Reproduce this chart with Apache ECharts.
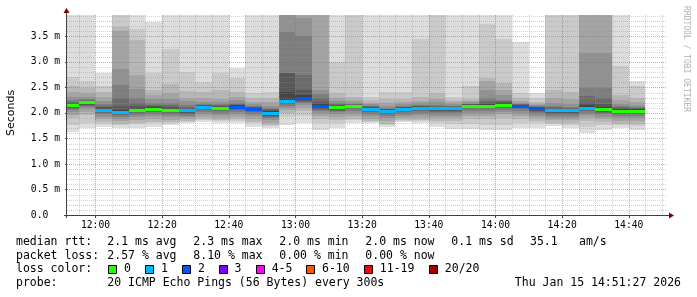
<!DOCTYPE html>
<html><head><meta charset="utf-8">
<script src="https://cdn.jsdelivr.net/npm/echarts@6/dist/echarts.min.js"></script>
<style>html,body{margin:0;padding:0;background:#fff}#c{width:697px;height:297px}</style>
</head><body><div id="c"></div>
<script>
// ---- data ----
const graphStart = '11:51:27';
const graphEnd = '14:51:27';
const colEnds = ['11:55','12:00','12:05','12:10','12:15','12:20','12:25','12:30','12:35','12:40','12:45','12:50','12:55',
  '13:00','13:05','13:10','13:15','13:20','13:25','13:30','13:35','13:40','13:45','13:50','13:55',
  '14:00','14:05','14:10','14:15','14:20','14:25','14:30','14:35','14:40','14:45'];
// 20 sorted ping rtts (ms) per 5-minute step
const pings = [
  [1.63,1.76,1.90,1.96,2.01,2.05,2.08,2.10,2.12,2.14,2.16,2.18,2.20,2.22,2.25,2.32,2.42,2.52,2.71,4.2],
  [1.70,1.80,1.96,2.02,2.07,2.11,2.14,2.16,2.18,2.20,2.22,2.23,2.24,2.25,2.27,2.31,2.39,2.49,2.62,4.2],
  [1.73,1.79,1.83,1.88,1.93,1.97,2.00,2.02,2.04,2.05,2.07,2.09,2.11,2.14,2.17,2.23,2.31,2.42,2.53,2.79],
  [1.70,1.76,1.78,1.84,1.89,1.93,1.96,1.98,2.00,2.01,2.03,2.06,2.13,2.30,2.55,2.86,3.60,3.69,4.2,4.2],
  [1.70,1.78,1.81,1.87,1.92,1.96,1.99,2.01,2.03,2.05,2.07,2.10,2.14,2.19,2.30,2.47,2.75,3.43,3.65,4.2],
  [1.72,1.80,1.83,1.89,1.94,1.98,2.01,2.03,2.05,2.07,2.09,2.11,2.13,2.16,2.20,2.28,2.36,2.45,2.78,3.79],
  [1.76,1.80,1.83,1.87,1.92,1.96,1.99,2.01,2.03,2.05,2.07,2.09,2.12,2.15,2.19,2.28,2.40,2.57,3.25,4.2],
  [1.80,1.83,1.85,1.88,1.92,1.95,1.98,2.00,2.02,2.04,2.06,2.08,2.10,2.12,2.15,2.23,2.30,2.43,2.81,4.2],
  [1.82,1.86,1.88,1.93,1.98,2.02,2.05,2.07,2.09,2.11,2.13,2.14,2.15,2.16,2.18,2.22,2.29,2.42,2.61,4.2],
  [1.80,1.84,1.86,1.91,1.96,2.00,2.03,2.05,2.07,2.09,2.11,2.12,2.14,2.15,2.17,2.22,2.27,2.45,2.78,4.2],
  [1.80,1.85,1.88,1.93,1.98,2.02,2.05,2.07,2.09,2.11,2.13,2.15,2.16,2.18,2.20,2.25,2.32,2.42,2.68,2.88],
  [1.72,1.80,1.83,1.89,1.94,1.98,2.01,2.03,2.05,2.07,2.09,2.10,2.11,2.12,2.13,2.17,2.22,2.29,2.40,4.2],
  [1.70,1.74,1.76,1.81,1.86,1.90,1.93,1.95,1.97,1.99,2.01,2.03,2.05,2.07,2.09,2.14,2.22,2.30,2.42,4.2],
  [1.76,1.93,2.00,2.06,2.10,2.14,2.17,2.19,2.21,2.23,2.26,2.42,2.78,2.79,3.59,4.2,4.2,4.2,4.2,4.2],
  [1.80,1.95,2.04,2.10,2.15,2.19,2.22,2.24,2.26,2.28,2.30,2.36,2.45,2.75,3.50,3.87,4.2,4.2,4.2,4.2],
  [1.67,1.80,1.88,1.94,1.99,2.03,2.06,2.08,2.10,2.12,2.14,2.17,2.22,2.30,2.38,2.45,4.2,4.2,4.2,4.2],
  [1.70,1.80,1.86,1.92,1.97,2.01,2.04,2.06,2.08,2.10,2.12,2.14,2.16,2.18,2.19,2.24,2.30,2.39,3.00,4.2],
  [1.81,1.86,1.89,1.95,2.00,2.04,2.07,2.09,2.11,2.13,2.15,2.16,2.16,2.17,2.18,2.22,2.26,2.32,4.2,4.2],
  [1.80,1.83,1.85,1.89,1.94,1.98,2.01,2.03,2.05,2.07,2.09,2.10,2.11,2.13,2.14,2.17,2.20,2.25,2.32,4.2],
  [1.73,1.77,1.79,1.85,1.90,1.94,1.97,1.99,2.01,2.03,2.05,2.06,2.07,2.08,2.10,2.14,2.20,2.28,2.42,4.2],
  [1.83,1.85,1.87,1.90,1.94,1.98,2.01,2.03,2.05,2.07,2.09,2.10,2.11,2.12,2.13,2.17,2.21,2.28,2.42,4.2],
  [1.80,1.84,1.86,1.91,1.96,2.00,2.03,2.05,2.07,2.09,2.11,2.12,2.13,2.14,2.15,2.19,2.24,2.32,3.44,4.2],
  [1.73,1.80,1.84,1.90,1.95,1.99,2.02,2.04,2.06,2.08,2.10,2.11,2.12,2.14,2.16,2.21,2.28,2.39,4.2,4.2],
  [1.68,1.78,1.84,1.90,1.95,1.99,2.02,2.04,2.06,2.08,2.10,2.11,2.12,2.13,2.14,2.17,2.21,2.26,2.32,4.2],
  [1.68,1.78,1.89,1.95,2.00,2.04,2.07,2.09,2.11,2.13,2.15,2.16,2.17,2.17,2.18,2.21,2.24,2.28,2.53,4.2],
  [1.66,1.76,1.89,1.95,2.00,2.04,2.07,2.09,2.11,2.13,2.15,2.17,2.20,2.24,2.30,2.45,2.62,2.68,3.74,4.2],
  [1.66,1.76,1.91,1.97,2.02,2.06,2.09,2.11,2.13,2.15,2.17,2.19,2.21,2.23,2.26,2.35,2.45,2.58,3.45,4.2],
  [1.70,1.80,1.89,1.95,2.00,2.04,2.07,2.09,2.11,2.13,2.15,2.16,2.16,2.17,2.17,2.20,2.24,2.30,2.40,3.40],
  [1.70,1.80,1.84,1.90,1.95,1.99,2.02,2.04,2.06,2.08,2.10,2.11,2.12,2.12,2.13,2.15,2.18,2.22,2.30,2.40],
  [1.74,1.78,1.80,1.86,1.91,1.95,1.98,2.00,2.02,2.04,2.06,2.08,2.10,2.11,2.13,2.20,2.30,2.45,4.2,4.2],
  [1.70,1.77,1.80,1.86,1.91,1.95,1.98,2.00,2.02,2.04,2.06,2.08,2.09,2.10,2.12,2.18,2.28,2.42,4.2,4.2],
  [1.60,1.72,1.85,1.91,1.96,2.00,2.03,2.05,2.08,2.09,2.11,2.15,2.20,2.33,2.48,3.17,4.2,4.2,4.2,4.2],
  [1.66,1.76,1.82,1.88,1.93,1.97,2.00,2.02,2.04,2.06,2.08,2.12,2.18,2.30,2.48,3.17,4.2,4.2,4.2,4.2],
  [1.70,1.76,1.79,1.85,1.90,1.94,1.97,1.99,2.01,2.03,2.05,2.07,2.09,2.11,2.13,2.18,2.25,2.35,2.93,4.2],
  [1.67,1.75,1.79,1.85,1.90,1.94,1.97,1.99,2.01,2.03,2.05,2.07,2.09,2.10,2.12,2.16,2.22,2.29,2.52,2.63]
];
const medians = [2.15,2.21,2.06,2.02,2.06,2.08,2.06,2.05,2.12,2.10,2.12,2.08,2.00,2.24,2.29,2.13,2.11,2.14,2.08,2.04,
  2.08,2.10,2.09,2.09,2.14,2.14,2.16,2.14,2.09,2.05,2.05,2.10,2.07,2.04,2.04];
const losses = [0,0,1,1,0,0,0,1,1,0,2,2,1,1,2,2,0,0,1,1,1,1,1,1,0,0,0,2,2,1,1,1,0,0,0];
const xTickTimes = ['12:00','12:20','12:40','13:00','13:20','13:40','14:00','14:20','14:40'];
const yTickValues = [0,0.5,1.0,1.5,2.0,2.5,3.0,3.5];
const lossLabels = ['0','1','2','3','4-5','6-10','11-19','20/20'];
const lossUpper = [0,1,2,3,5,10,19,20];
const lossColors = ['#26ff00','#00b8ff','#0059ff','#7e00ff','#ff00ff','#ff5500','#ff0000','#a10000'];
const rttStats = ['2.1 ms avg','2.3 ms max','2.0 ms min','2.0 ms now','0.1 ms sd','35.1','am/s'];
const lossStats = ['2.57 % avg','8.10 % max','0.00 % min','0.00 % now'];
const probeText = '20 ICMP Echo Pings (56 Bytes) every 300s';
const stampText = 'Thu Jan 15 14:51:27 2026';
const Y_MAX = 3.92;

// ---- helpers / styling ----
const MONO = 'DejaVu Sans Mono';
const smokeColors = ['#dddddd','#cacaca','#b7b7b7','#a4a4a4','#919191','#7e7e7e','#6b6b6b','#585858','#454545','#323232'];
const MINOR = 'rgba(150,150,150,0.45)';
const MAJOR = 'rgba(230,70,70,0.55)';
function toMin(t){ const a=t.split(':').map(Number); return a[0]*60+a[1]+(a[2]||0)/60; }
const xMin = toMin(graphStart), xMax = toMin(graphEnd);
const cols = colEnds.map((t,i)=>[i===0?xMin:toMin(colEnds[i-1]), toMin(t), i]);
function lossColor(n){ for(let k=0;k<lossUpper.length;k++){ if(n<=lossUpper[k]) return lossColors[k]; } return lossColors[7]; }
const xMajor = xTickTimes.map(toMin);
const vGrid = []; for(let m=Math.ceil(xMin/5)*5; m<xMax; m+=5){ vGrid.push([m,0,xMajor.indexOf(m)>=0?1:0]); }
const hGrid = []; for(let k=1;k<=39;k++){ const v=k/10; hGrid.push([xMin, v, (k%5===0)?1:0]); }

function renderSmoke(params, api){
  const i = api.value(2), p = pings[i];
  const xa = Math.round(api.coord([api.value(0),0])[0]);
  const xb = Math.round(api.coord([api.value(1),0])[0]);
  const kids = [];
  for(let b=0;b<10;b++){
    const ya = Math.round(api.coord([0,p[b]])[1]);
    const yb = Math.round(api.coord([0,Math.min(p[19-b],Y_MAX)])[1]);
    kids.push({type:'rect', shape:{x:xa,y:yb,width:xb-xa,height:ya-yb}, style:{fill:smokeColors[b]}});
  }
  return {type:'group', children:kids};
}
function renderMedian(params, api){
  const i = api.value(2);
  const xa = Math.round(api.coord([api.value(0),0])[0]);
  const xb = Math.round(api.coord([api.value(1),0])[0]);
  const ym = Math.round(api.coord([0,medians[i]])[1]);
  return {type:'rect', shape:{x:xa,y:ym-1,width:xb-xa,height:3}, style:{fill:lossColor(losses[i])}};
}
function renderV(params, api){
  const cs = params.coordSys;
  const x = Math.round(api.coord([api.value(0),0])[0])+0.5;
  return {type:'line', shape:{x1:x,y1:cs.y,x2:x,y2:cs.y+cs.height}, style:{stroke:api.value(2)?MAJOR:MINOR,lineWidth:1,lineDash:[1,1]}};
}
function renderH(params, api){
  const cs = params.coordSys;
  const y = Math.round(api.coord([0,api.value(1)])[1])+0.5;
  return {type:'line', shape:{x1:cs.x,y1:y,x2:cs.x+cs.width,y2:y}, style:{stroke:api.value(2)?MAJOR:MINOR,lineWidth:1,lineDash:[1,1]}};
}

// ---- graphic: axes, arrows, texts, legend ----
const AX = '#404040', ARROW = '#7f0000';
const g = [];
g.push({type:'line', shape:{x1:64,y1:215.5,x2:669,y2:215.5}, style:{stroke:AX,lineWidth:1}, z:50});
g.push({type:'line', shape:{x1:66.5,y1:218,x2:66.5,y2:12}, style:{stroke:AX,lineWidth:1}, z:50});
g.push({type:'polygon', shape:{points:[[669,212.5],[674,215.5],[669,218.5]]}, style:{fill:ARROW}, z:51});
g.push({type:'polygon', shape:{points:[[63.5,13],[66.5,8],[69.5,13]]}, style:{fill:ARROW}, z:51});
g.push({type:'text', x:11, y:113, rotation:Math.PI/2, style:{text:'Seconds', fontFamily:'DejaVu Sans', fontSize:11, fill:'#000', align:'center', verticalAlign:'middle'}, z:50});
g.push({type:'text', x:686, y:59, rotation:-Math.PI/2, style:{text:'RRDTOOL / TOBI OETIKER', fontFamily:MONO, fontSize:8, fill:'#b0b0b0', align:'center', verticalAlign:'middle'}, z:50});
function txt(t,x,y,align){ g.push({type:'text', x:x, y:y, style:{text:t, fontFamily:MONO, fontSize:11.5, fill:'#000', align:align||'left', verticalAlign:'middle'}, z:50}); }
const rowY = [241.7,255.7,269.5,283.3];
txt('median rtt:',16,rowY[0]);
[107.3,193.3,279.3,365.3,451.3,530,579].forEach((x,k)=>txt(rttStats[k],x,rowY[0]));
txt('packet loss:',16,rowY[1]);
[107.3,193.3,279.3,365.3].forEach((x,k)=>txt(lossStats[k],x,rowY[1]));
txt('loss color:',16,rowY[2]);
const sqX = [108.5,145.5,182.5,219.5,256.5,306.5,364.5,429.5];
const lbX = [124,161,198,234.6,271.7,322,379.8,444.8];
lossLabels.forEach((l,k)=>{
  g.push({type:'rect', shape:{x:sqX[k],y:265.5,width:8,height:8}, style:{fill:lossColors[k],stroke:'#000',lineWidth:1}, z:50});
  txt(l,lbX[k],rowY[2]);
});
txt('probe:',16,rowY[3]);
txt(probeText,107.3,rowY[3]);
txt(stampText,681,rowY[3],'right');

const chart = echarts.init(document.getElementById('c'), null, {renderer:'canvas'});
chart.setOption({
  animation:false,
  backgroundColor:'#ffffff',
  grid:{left:67,right:30,top:15,bottom:82,containLabel:false,outerBoundsMode:'none'},
  xAxis:{type:'value', min:xMin, max:xMax,
    axisLine:{show:false}, splitLine:{show:false},
    axisTick:{show:true, customValues:xMajor, length:3, lineStyle:{color:AX}},
    axisLabel:{customValues:xMajor, margin:5, fontFamily:MONO, fontSize:9.7, color:'#000',
      formatter:v=>{ const k=xMajor.findIndex(m=>Math.abs(m-v)<1e-6); return k>=0?xTickTimes[k]:''; }}},
  yAxis:{type:'value', min:0, max:Y_MAX,
    axisLine:{show:false}, splitLine:{show:false},
    axisTick:{show:true, customValues:yTickValues, length:2, lineStyle:{color:AX}},
    axisLabel:{customValues:yTickValues, margin:7, fontFamily:MONO, fontSize:9.7, color:'#000',
      formatter:v=> v===0 ? '0.0  ' : v.toFixed(1)+' m'}},
  series:[
    {type:'custom', name:'smoke', renderItem:renderSmoke, data:cols, encode:{x:[0,1]}, clip:true, z:1, silent:true},
    {type:'custom', name:'vgrid', renderItem:renderV, data:vGrid, encode:{x:0,y:1}, z:2, silent:true},
    {type:'custom', name:'hgrid', renderItem:renderH, data:hGrid, encode:{x:0,y:1}, z:2, silent:true},
    {type:'custom', name:'median', renderItem:renderMedian, data:cols, encode:{x:[0,1]}, clip:true, z:3, silent:true}
  ],
  graphic:g
});
</script></body></html>
